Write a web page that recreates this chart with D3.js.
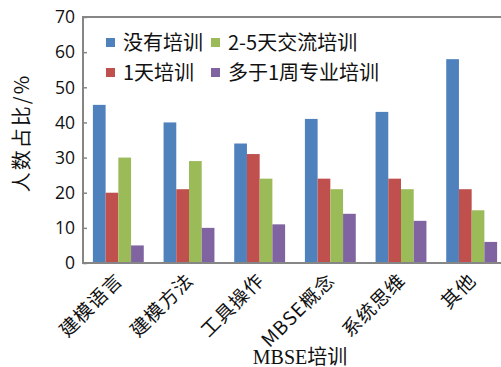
<!DOCTYPE html>
<html>
<head>
<meta charset="utf-8">
<script src="https://cdn.jsdelivr.net/npm/d3@7"></script>
<style>
body { margin: 0; background: #fff; }
svg { display: block; }
</style>
</head>
<body>
<div id="chart"></div>
<script>
// categories and series
var categories = ["建模语言", "建模方法", "工具操作", "MBSE概念", "系统思维", "其他"];
var seriesNames = ["没有培训", "1天培训", "2-5天交流培训", "多于1周专业培训"];
var noTraining = [45, 40, 34, 41, 43, 58];
var oneDay = [20, 21, 31, 24, 24, 21];
var twoToFive = [30, 29, 24, 21, 21, 15];
var overWeek = [5, 10, 11, 14, 12, 6];
var yTicks = [0, 10, 20, 30, 40, 50, 60, 70];

var colors = ["#4F81BD", "#C0504D", "#9BBB59", "#8064A2"];
var seriesValues = [noTraining, oneDay, twoToFive, overWeek];

var W = 501, H = 367;
var plotLeft = 83, plotRight = 507, plotTop = 17, plotBottom = 263;

var svg = d3.select("#chart").append("svg")
	.attr("width", W)
	.attr("height", H);

var x0 = d3.scaleBand()
	.domain(categories)
	.range([plotLeft, plotRight])
	.paddingInner(0.28)
	.paddingOuter(0.14);

var x1 = d3.scaleBand()
	.domain(d3.range(seriesNames.length))
	.range([0, x0.bandwidth()])
	.padding(0);

var y = d3.scaleLinear()
	.domain([0, 70])
	.range([plotBottom, plotTop]);

var numFont = "'Open Sans', 'Noto Sans', sans-serif";
var cjkFont = "'Noto Sans CJK SC', 'Noto Sans', sans-serif";

//Bars
var groups = svg.append("g").selectAll("g")
	.data(categories)
	.enter().append("g")
	.attr("transform", function(d) { return "translate(" + x0(d) + ",0)"; });

groups.selectAll("rect")
	.data(function(d, i) {
		return seriesValues.map(function(s, k) { return {k: k, v: s[i]}; });
	})
	.enter().append("rect")
	.attr("x", function(d) { return x1(d.k); })
	.attr("y", function(d) { return y(d.v); })
	.attr("width", x1.bandwidth())
	.attr("height", function(d) { return plotBottom - y(d.v); })
	.attr("fill", function(d) { return colors[d.k]; });

//Frame: top line, left axis, bottom axis
svg.append("line")
	.attr("x1", plotLeft).attr("y1", plotTop)
	.attr("x2", plotRight).attr("y2", plotTop)
	.attr("stroke", "#868686").attr("stroke-width", 2);

svg.append("line")
	.attr("x1", plotLeft).attr("y1", plotTop - 1)
	.attr("x2", plotLeft).attr("y2", plotBottom + 1)
	.attr("stroke", "#868686").attr("stroke-width", 2);

svg.append("line")
	.attr("x1", plotLeft).attr("y1", plotBottom)
	.attr("x2", plotRight).attr("y2", plotBottom)
	.attr("stroke", "#868686").attr("stroke-width", 2);

//Y axis
var yAxis = svg.append("g")
	.attr("transform", "translate(" + plotLeft + ",0)")
	.call(d3.axisRight(y).tickValues(yTicks).tickSize(4).tickFormat(""));
yAxis.select(".domain").remove();
yAxis.selectAll("line").attr("stroke", "#868686").attr("stroke-width", 1.5);

svg.append("g").selectAll("text")
	.data(yTicks)
	.enter().append("text")
	.attr("x", plotLeft - 8)
	.attr("y", function(d) { return y(d); })
	.attr("dy", "0.36em")
	.attr("text-anchor", "end")
	.attr("font-family", numFont)
	.attr("font-size", 17.5)
	.attr("fill", "#111")
	.text(function(d) { return d; });

svg.append("text")
	.attr("transform", "translate(29,133) rotate(-90)")
	.attr("text-anchor", "middle")
	.attr("font-family", cjkFont)
	.attr("font-size", 20)
	.attr("letter-spacing", 2)
	.attr("fill", "#111")
	.text("人数占比/%");

//X labels
svg.append("g").selectAll("text")
	.data(categories)
	.enter().append("text")
	.attr("transform", function(d) {
		return "translate(" + (x0(d) + x0.bandwidth() / 2 + 1) + "," + (plotBottom + 14) + ") rotate(-45)";
	})
	.attr("text-anchor", "end")
	.attr("dy", "0.35em")
	.attr("font-family", cjkFont)
	.attr("font-size", 19)
	.attr("letter-spacing", 1)
	.attr("fill", "#111")
	.text(function(d) { return d; });

svg.append("text")
	.attr("x", 300)
	.attr("y", 364)
	.attr("text-anchor", "middle")
	.attr("font-family", "'Liberation Serif', 'Noto Sans CJK SC', serif")
	.attr("font-size", 20)
	.attr("fill", "#111")
	.text("MBSE培训");

//Legend
var legendOrder = [0, 2, 1, 3];
var legendPos = [[106, 43], [211, 43], [106, 73], [211, 73]];
var legend = svg.append("g").selectAll("g")
	.data(legendOrder)
	.enter().append("g")
	.attr("transform", function(d, i) { return "translate(" + legendPos[i][0] + "," + legendPos[i][1] + ")"; });

legend.append("rect")
	.attr("x", 0).attr("y", -5)
	.attr("width", 9).attr("height", 9)
	.attr("fill", function(d) { return colors[d]; });

legend.append("text")
	.attr("x", 17)
	.attr("y", 0)
	.attr("dy", "0.35em")
	.attr("font-family", cjkFont)
	.attr("font-size", 20)
	.attr("fill", "#111")
	.text(function(d) { return seriesNames[d]; });
</script>
</body>
</html>
